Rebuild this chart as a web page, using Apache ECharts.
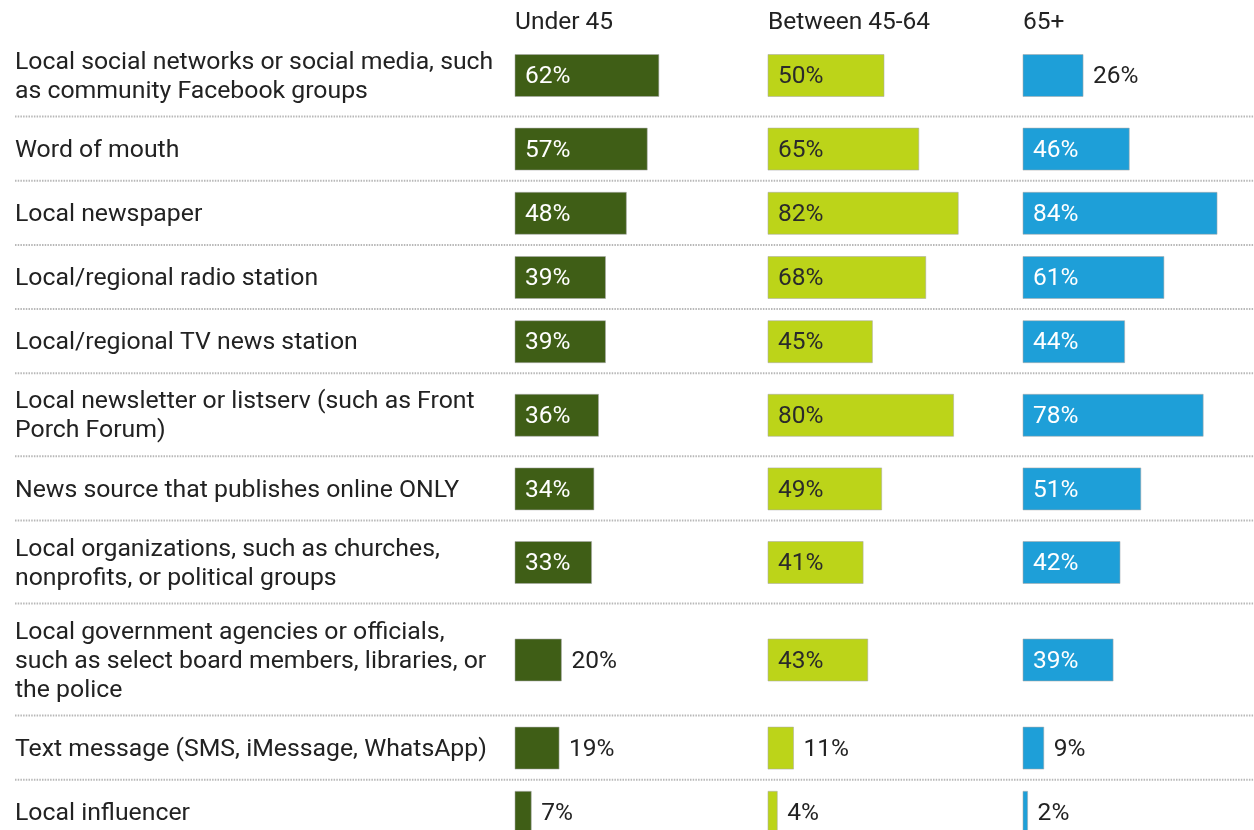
<!DOCTYPE html>
<html>
<head>
<meta charset="utf-8">
<title>Local news sources by age group</title>
<script src="https://cdn.jsdelivr.net/npm/echarts@6/dist/echarts.min.js"></script>
<style>
  html, body { margin: 0; padding: 0; background: #ffffff; }
  #chart { width: 1254px; height: 830px; }
</style>
</head>
<body>
<div id="chart"></div>
<script>
// Sources, with the line breaks used in the row labels
const categories = [
  'Local social networks or social media, such\nas community Facebook groups',
  'Word of mouth',
  'Local newspaper',
  'Local/regional radio station',
  'Local/regional TV news station',
  'Local newsletter or listserv (such as Front\nPorch Forum)',
  'News source that publishes online ONLY',
  'Local organizations, such as churches,\nnonprofits, or political groups',
  'Local government agencies or officials,\nsuch as select board members, libraries, or\nthe police',
  'Text message (SMS, iMessage, WhatsApp)',
  'Local influencer'
];
const groupNames = ['Under 45', 'Between 45-64', '65+'];
const under45 = [62, 57, 48, 39, 39, 36, 34, 33, 20, 19, 7];
const between45to64 = [50, 65, 82, 68, 45, 80, 49, 41, 43, 11, 4];
const over65 = [26, 46, 84, 61, 44, 78, 51, 42, 39, 9, 2];

// ---- layout ----
const FONT = 'Roboto, "Noto Sans", sans-serif';
const groupColors = ['#3f5e16', '#bcd419', '#1e9fd8'];
const insideTextColors = ['#ffffff', '#2a2a2a', '#ffffff'];
const columnLeft = [515, 768, 1023];
const columnWidth = 232;          // pixels for 100%
const rowHeightByLines = { 1: 64.2, 2: 83, 3: 112 };
const firstRowTop = 33.5;
const barHeight = 42;
const textShift = 2;              // optical centring of text against bars
const insideThreshold = 30;       // labels go inside bars at least this long

// row tops and centres follow the number of label lines
const rowTops = [];
const rowCenters = [];
let cursor = firstRowTop;
categories.forEach(function (c) {
  const h = rowHeightByLines[c.split('\n').length];
  rowTops.push(cursor);
  rowCenters.push(cursor + h / 2);
  cursor += h;
});

const chart = echarts.init(document.getElementById('chart'), null, { renderer: 'canvas' });

function barRenderer(colIdx) {
  return function (params, api) {
    const v = api.value(0);
    const yc = api.value(1);
    const p0 = api.coord([0, yc]);
    const p1 = api.coord([v, yc]);
    const inside = v >= insideThreshold;
    return {
      type: 'group',
      children: [
        {
          type: 'rect',
          shape: { x: p0[0], y: p0[1] - barHeight / 2 + 0.5, width: p1[0] - p0[0], height: barHeight },
          style: { fill: groupColors[colIdx], stroke: 'rgba(170,170,170,0.55)', lineWidth: 1 }
        },
        {
          type: 'text',
          x: inside ? p0[0] + 10 : p1[0] + 10,
          y: p0[1] + textShift,
          style: {
            text: v + '%',
            fill: inside ? insideTextColors[colIdx] : '#222222',
            font: '24.5px ' + FONT,
            align: 'left',
            verticalAlign: 'middle'
          }
        }
      ]
    };
  };
}

function labelRenderer(params, api) {
  const idx = params.dataIndex;
  const top = api.coord([0, api.value(0)]);
  const mid = api.coord([0, api.value(1)]);
  const children = [
    {
      type: 'text',
      x: 15,
      y: mid[1] + textShift,
      style: {
        text: categories[idx],
        fill: '#222222',
        font: '24.8px ' + FONT,
        lineHeight: 29,
        align: 'left',
        verticalAlign: 'middle'
      }
    }
  ];
  if (idx > 0) {
    children.push({
      type: 'line',
      shape: { x1: 15, y1: top[1], x2: 1254, y2: top[1] },
      style: { stroke: '#b8b8b8', lineWidth: 2, lineDash: [1.5, 1.2] }
    });
  }
  return { type: 'group', children: children };
}

const seriesValues = [under45, between45to64, over65];

const option = {
  animation: false,
  backgroundColor: '#ffffff',
  title: groupNames.map(function (name, i) {
    return {
      text: name,
      left: columnLeft[i],
      top: 10,
      padding: 0,
      textStyle: { fontFamily: FONT, fontSize: 24.5, fontWeight: 'normal', color: '#222222' }
    };
  }),
  grid: columnLeft.map(function (l) {
    return { left: l, top: 0, width: columnWidth, height: 830 };
  }),
  xAxis: columnLeft.map(function (l, i) {
    return { type: 'value', gridIndex: i, min: 0, max: 100, show: false };
  }),
  yAxis: columnLeft.map(function (l, i) {
    return { type: 'value', gridIndex: i, min: 0, max: 830, inverse: true, show: false };
  }),
  series: [
    {
      type: 'custom',
      name: 'rows',
      xAxisIndex: 0,
      yAxisIndex: 0,
      silent: true,
      clip: false,
      encode: { x: -1, y: [0, 1] },
      data: rowTops.map(function (t, i) { return [t, rowCenters[i]]; }),
      renderItem: labelRenderer
    }
  ].concat(seriesValues.map(function (vals, i) {
    return {
      type: 'custom',
      name: groupNames[i],
      xAxisIndex: i,
      yAxisIndex: i,
      silent: true,
      clip: false,
      encode: { x: 0, y: 1 },
      data: vals.map(function (v, r) { return [v, rowCenters[r]]; }),
      renderItem: barRenderer(i)
    };
  }))
};

chart.setOption(option);
</script>
</body>
</html>
